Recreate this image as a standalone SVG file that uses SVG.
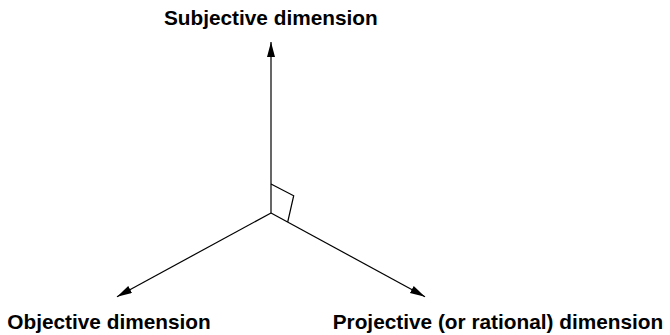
<svg xmlns="http://www.w3.org/2000/svg" width="670" height="335" viewBox="0 0 670 335">
<style>
.lbl{font-family:"Liberation Sans",Arial,sans-serif;font-weight:bold;font-size:20.8px;fill:#000}
.ax{stroke:#000;stroke-width:1.2;fill:none}
</style>
<defs>
<marker id="ah" markerUnits="userSpaceOnUse" markerWidth="16" markerHeight="10" refX="15" refY="4" orient="auto">
<path d="M0,0 L15,4 L0,8 Z" fill="#000"/>
</marker>
</defs>
<rect width="670" height="335" fill="#fff"/>
<g id="connectors">
<line class="ax" x1="271" y1="213" x2="271" y2="42" marker-end="url(#ah)"/>
<line class="ax" x1="271" y1="213" x2="117" y2="296.7" marker-end="url(#ah)"/>
<line class="ax" x1="271" y1="213" x2="425" y2="296.7" marker-end="url(#ah)"/>
<polyline class="ax" points="271,184 293.7,195.7 287.7,222"/>
</g>
<g id="subjective"><text class="lbl" x="270.8" y="25" text-anchor="middle">Subjective dimension</text></g>
<g id="objective"><text class="lbl" x="7.3" y="329">Objective dimension</text></g>
<g id="projective"><text class="lbl" x="332.7" y="329">Projective (or rational) dimension</text></g>
</svg>
